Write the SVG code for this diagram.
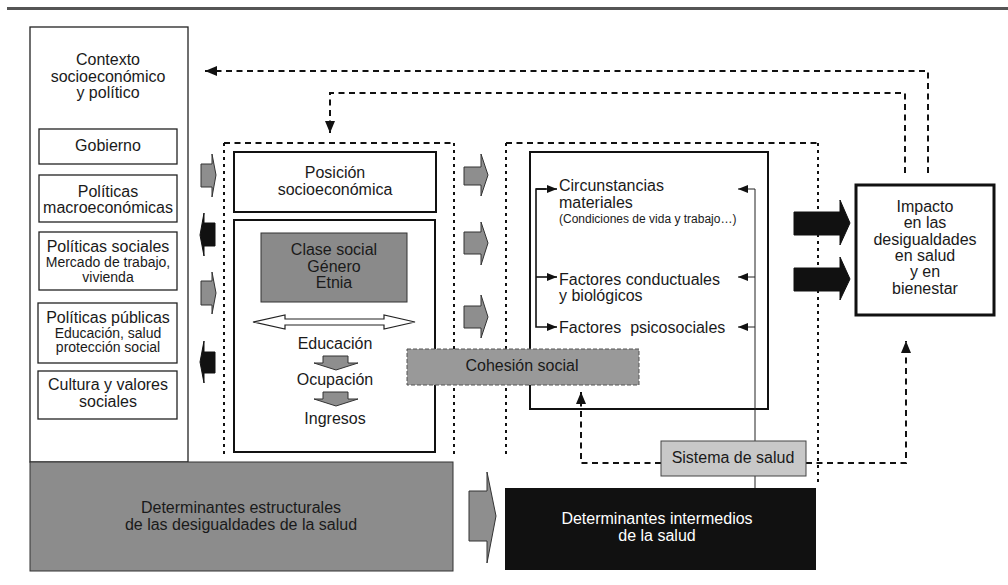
<svg xmlns="http://www.w3.org/2000/svg" width="1008" height="585" viewBox="0 0 1008 585">
<defs>
<marker id="ah" markerUnits="userSpaceOnUse" markerWidth="14" markerHeight="12" refX="12" refY="5" orient="auto"><path d="M0,0 L12,5 L0,10 Z" fill="#111"/></marker>
<marker id="as" markerUnits="userSpaceOnUse" markerWidth="12" markerHeight="10" refX="10" refY="4" orient="auto"><path d="M0,0 L10,4 L0,8 Z" fill="#111"/></marker>
</defs>
<style>
.t{font-family:"Liberation Sans",Arial,Helvetica,sans-serif;fill:#1a1a1a;text-anchor:middle;font-size:16px}
.s14{font-size:14px}
.s12{font-size:12px}
.l{text-anchor:start}
.w{fill:#fff}
.box{fill:#fff;stroke:#222;stroke-width:1.3}
.bb{fill:#fff;stroke:#111;stroke-width:2}
.dh{fill:none;stroke:#111;stroke-width:2;stroke-dasharray:6 4.5}
.dv{fill:none;stroke:#111;stroke-width:2;stroke-dasharray:3 4}
.ga{fill:#8e8e8e;stroke:#333;stroke-width:1}
.ka{fill:#111;stroke:#111;stroke-width:1}
.ln{fill:none;stroke:#111;stroke-width:1.6}
.thin{fill:none;stroke:#222;stroke-width:1}
</style>

<line x1="7" y1="8.5" x2="1008" y2="8.5" stroke="#555" stroke-width="3"/>

<g id="contexto">
<rect x="30" y="27" width="158" height="435" class="box"/>
<text class="t" x="108" y="65">Contexto</text>
<text class="t" x="108" y="82">socioeconómico</text>
<text class="t" x="108" y="98">y político</text>
</g>
<g id="gobierno">
<rect x="39" y="129" width="138" height="35" class="box"/>
<text class="t" x="108" y="151">Gobierno</text>
</g>
<g id="macro">
<rect x="39" y="175" width="138" height="47" class="box"/>
<text class="t" x="108" y="197">Políticas</text>
<text class="t" x="108" y="213">macroeconómicas</text>
</g>
<g id="sociales">
<rect x="39" y="232" width="138" height="58" class="box"/>
<text class="t" x="108" y="252">Políticas sociales</text>
<text class="t s14" x="108" y="267">Mercado de trabajo,</text>
<text class="t s14" x="108" y="282">vivienda</text>
</g>
<g id="publicas">
<rect x="38" y="303" width="139" height="60" class="box"/>
<text class="t" x="108" y="323">Políticas públicas</text>
<text class="t s14" x="108" y="338">Educación, salud</text>
<text class="t s14" x="108" y="352">protección social</text>
</g>
<g id="cultura">
<rect x="38" y="371" width="139" height="48" class="box"/>
<text class="t" x="108" y="390">Cultura y valores</text>
<text class="t" x="108" y="407">sociales</text>
</g>

<g id="estructurales">
<rect x="30" y="462" width="423" height="109" fill="#8c8c8c" stroke="#333" stroke-width="1"/>
<text class="t" x="241" y="513">Determinantes estructurales</text>
<text class="t" x="241" y="530">de las desigualdades de la salud</text>
</g>

<g id="intermedios">
<rect x="505" y="488" width="311" height="82" fill="#111"/>
<text class="t w" x="657" y="524">Determinantes intermedios</text>
<text class="t w" x="657" y="541">de la salud</text>
</g>

<g id="zona-posicion">
<line x1="224" y1="143" x2="454" y2="143" class="dh"/>
<line x1="224" y1="143" x2="224" y2="457" class="dv"/>
<line x1="454" y1="143" x2="454" y2="457" class="dv"/>
</g>
<g id="posicion">
<rect x="234" y="152" width="202" height="60" class="bb"/>
<text class="t" x="335" y="178">Posición</text>
<text class="t" x="335" y="195">socioeconómica</text>
</g>
<g id="clase">
<rect x="234" y="220" width="201" height="232" class="bb"/>
<rect x="261" y="233" width="146" height="69" fill="#8a8a8a" stroke="#333" stroke-width="1"/>
<text class="t" x="334" y="255">Clase social</text>
<text class="t" x="334" y="272">Género</text>
<text class="t" x="334" y="288">Etnia</text>
<path d="M253,322 L285,315 L285,319 L384,319 L384,315 L415,322 L384,329 L384,325 L285,325 L285,329 Z" fill="#fff" stroke="#222" stroke-width="1.2"/>
<text class="t" x="335" y="349">Educación</text>
<path d="M323,356 L348,356 L348,363 L358,363 L336,370 L314,363 L323,363 Z" class="ga"/>
<text class="t" x="335" y="385">Ocupación</text>
<path d="M323,392 L348,392 L348,399 L358,399 L336,406 L314,399 L323,399 Z" class="ga"/>
<text class="t" x="335" y="424">Ingresos</text>
</g>

<g id="zona-intermedia">
<line x1="506" y1="143" x2="818" y2="143" class="dh"/>
<line x1="506" y1="143" x2="506" y2="455" class="dv"/>
<line x1="818" y1="143" x2="818" y2="485" class="dv"/>
</g>
<g id="factores">
<rect x="530" y="152" width="238" height="257" class="bb"/>
<text class="t l" x="559" y="191">Circunstancias</text>
<text class="t l" x="559" y="208">materiales</text>
<text class="t l s12" x="559" y="223">(Condiciones de vida y trabajo…)</text>
<text class="t l" x="559" y="285">Factores conductuales</text>
<text class="t l" x="559" y="301">y biológicos</text>
<text class="t l" x="559" y="333" xml:space="preserve">Factores  psicosociales</text>
</g>

<g id="impacto">
<rect x="856" y="185" width="138" height="130" fill="#fff" stroke="#111" stroke-width="3"/>
<text class="t" x="925" y="212">Impacto</text>
<text class="t" x="925" y="228">en las</text>
<text class="t" x="925" y="245">desigualdades</text>
<text class="t" x="925" y="261">en salud</text>
<text class="t" x="925" y="277">y en</text>
<text class="t" x="925" y="294">bienestar</text>
</g>

<g id="connectors">
<path d="M928,173 V71 H205" class="dh" marker-end="url(#ah)"/>
<path d="M905,173 V93 H330 V133" class="dh" marker-end="url(#ah)"/>
<path d="M661,463 H581 V392" class="dh" marker-end="url(#ah)"/>
<path d="M806,463 H906 V341" class="dh" marker-end="url(#ah)"/>
<path d="M546,189 H536 V327 H557" class="ln" marker-end="url(#as)"/>
<path d="M536,189 H557" class="ln" marker-end="url(#as)"/>
<path d="M536,277 H557" class="ln" marker-end="url(#as)"/>
<path d="M755,488 V189 H738" class="thin" marker-end="url(#as)"/>
<path d="M755,277 H738" class="thin" marker-end="url(#as)"/>
<path d="M755,327 H738" class="thin" marker-end="url(#as)"/>
<path d="M201,164 L212,164 L212,154 L216,175 L212,197 L212,187 L201,187 Z" class="ga"/>
<path d="M215,223 L204,223 L204,213 L200,235 L204,256 L204,246 L215,246 Z" class="ka"/>
<path d="M201,281 L212,281 L212,272 L216,293 L212,314 L212,305 L201,305 Z" class="ga"/>
<path d="M215,352 L204,352 L204,341 L200,362 L204,383 L204,373 L215,373 Z" class="ka"/>
<path d="M464,167 L481,167 L481,154 L488,175 L481,196 L481,185 L464,185 Z" class="ga"/>
<path d="M464,232 L481,232 L481,222 L488,243 L481,265 L481,254 L464,254 Z" class="ga"/>
<path d="M464,306 L481,306 L481,295 L488,317 L481,338 L481,328 L464,328 Z" class="ga"/>
<path d="M794,212 L840,212 L840,200 L850,223 L840,245 L840,235 L794,235 Z" class="ka"/>
<path d="M794,268 L840,268 L840,257 L850,279 L840,300 L840,291 L794,291 Z" class="ka"/>
<path d="M469,491 L487,491 L487,472 L496,516 L487,563 L487,541 L469,541 Z" class="ga"/>
</g>

<g id="cohesion">
<rect x="407" y="349" width="232" height="36" fill="#999" stroke="#555" stroke-width="1" stroke-dasharray="4 2"/>
<text class="t" x="522" y="371">Cohesión social</text>
</g>
<g id="sistema">
<rect x="661" y="441" width="145" height="35" fill="#c8c8c8" stroke="#444" stroke-width="1"/>
<text class="t" x="733" y="463">Sistema de salud</text>
</g>
</svg>
